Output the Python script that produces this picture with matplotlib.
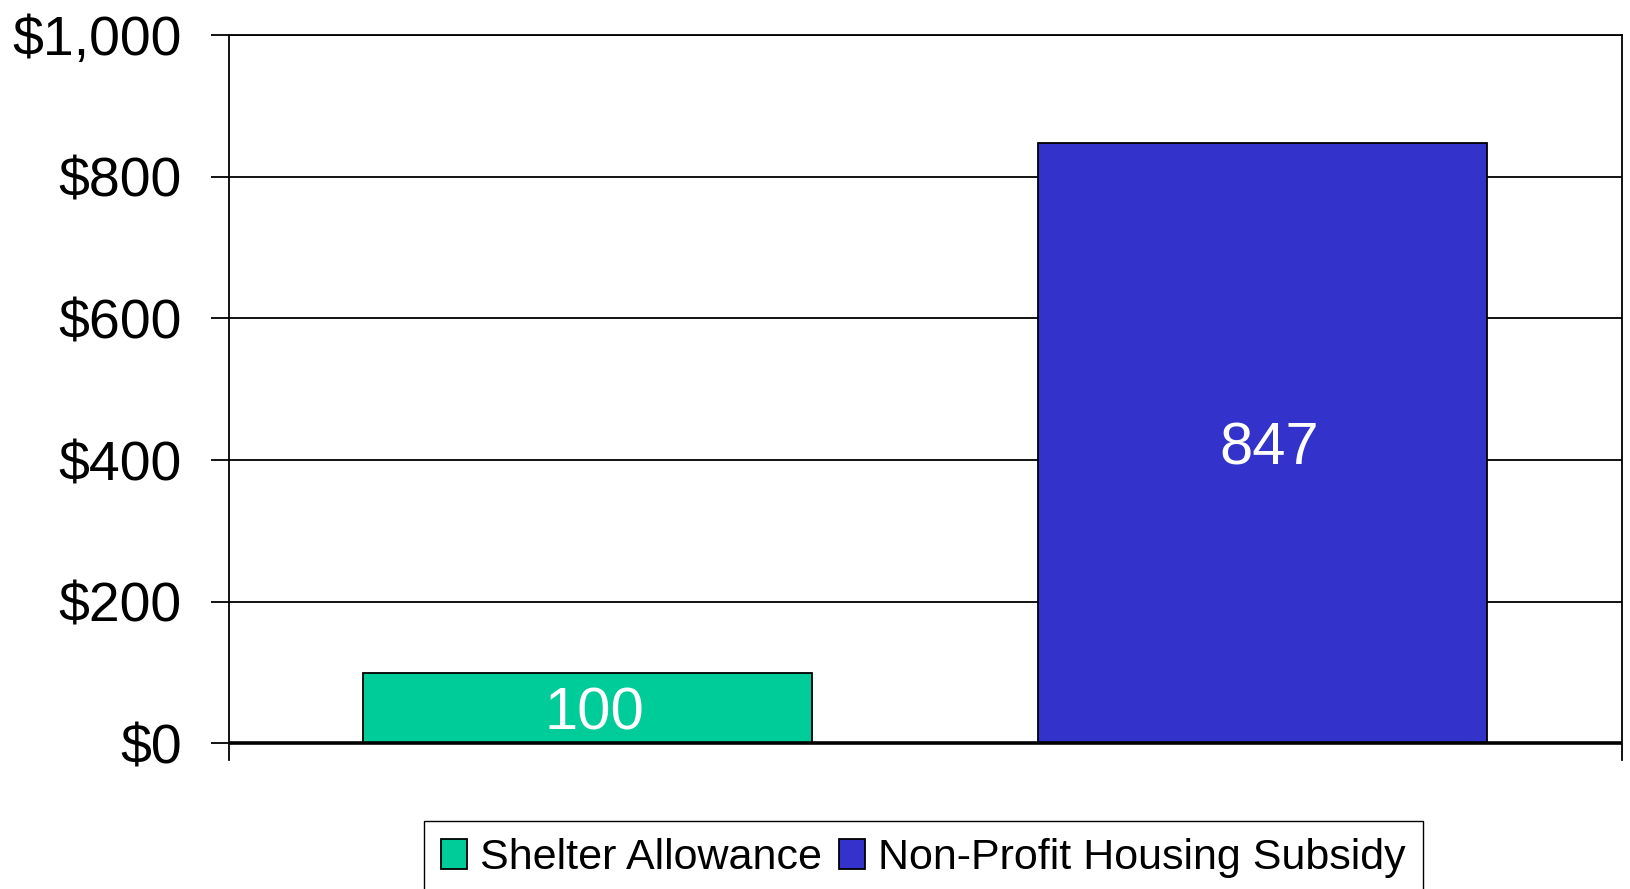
import matplotlib.pyplot as plt
from matplotlib.patches import Patch

plt.rcParams['font.family'] = ['Liberation Sans', 'DejaVu Sans']

programs = ["Shelter Allowance", "Non-Profit Housing Subsidy"]
costs = [100, 847]
colors = ["#00CC99", "#3333CC"]
y_ticks = [0, 200, 400, 600, 800, 1000]
y_labels = ["$0", "$200", "$400", "$600", "$800", "$1,000"]


def main():
    fig = plt.figure(figsize=(16.3, 8.89), dpi=100)
    ax = fig.add_axes([0.1405, 0.1451, 0.8546, 0.8155])

    xs = list(range(len(costs)))
    ax.bar(xs, costs, width=0.665, color=colors,
           edgecolor="black", linewidth=1.3, zorder=3)

    for x, v in zip(xs, costs):
        ax.text(x + 0.01, v / 2, str(v), ha="center", va="center_baseline",
                color="white", fontsize=43, zorder=4)

    ax.set_xlim(-0.531, 1.533)
    ax.set_ylim(-23.5, 1000)
    ax.set_xticks([])
    ax.set_yticks(y_ticks)
    ax.set_yticklabels(y_labels, fontsize=40)
    ax.tick_params(axis="y", direction="out", length=13, width=1.3,
                   pad=21, color="black")

    ax.grid(axis="y", color="black", linewidth=1.3, zorder=1)
    ax.axhline(0, color="black", linewidth=2.6, zorder=5)

    ax.spines["bottom"].set_visible(False)
    for side in ("left", "right", "top"):
        ax.spines[side].set_linewidth(1.3)

    handles = [Patch(facecolor=c, edgecolor="black", linewidth=1.3)
               for c in colors]
    fig.legend(handles, programs, loc="upper center",
               bbox_to_anchor=(0.5665, 0.0765), ncol=2,
               fontsize=31, frameon=True, fancybox=False,
               edgecolor="black", framealpha=1,
               handlelength=0.6, handleheight=0.7, handletextpad=0.3,
               columnspacing=0.4, borderpad=0.4, borderaxespad=0)

    fig.savefig("out.png", dpi=100)


if __name__ == "__main__":
    main()
